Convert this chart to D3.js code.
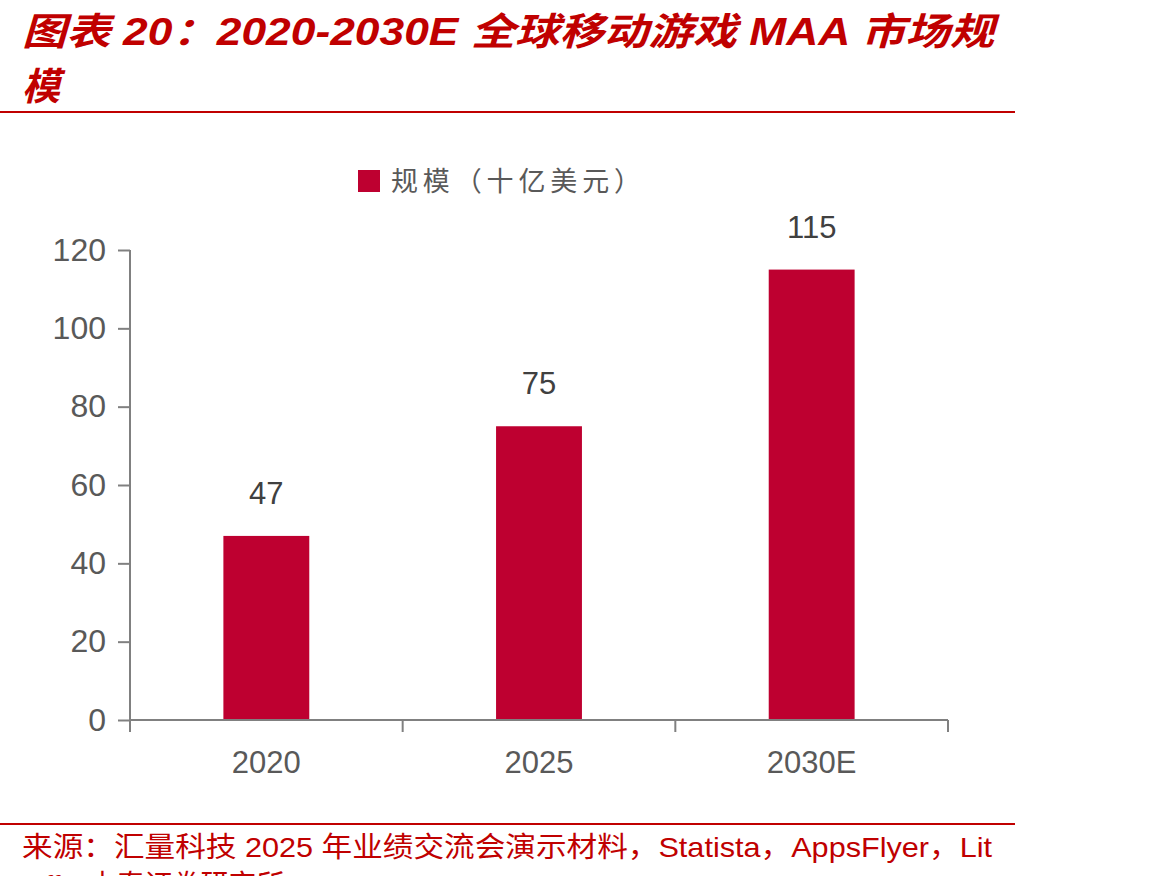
<!DOCTYPE html>
<html><head><meta charset="utf-8">
<script src="https://cdn.jsdelivr.net/npm/d3@7/dist/d3.min.js"></script>
<style>html,body{margin:0;padding:0;background:#fff;overflow:hidden}</style>
</head><body>
<svg id="c" width="1170" height="876"></svg>
<script>
const categories = ["2020", "2025", "2030E"];
const values = [47, 75, 115];
const yTicks = [0, 20, 40, 60, 80, 100, 120];
const seriesName = "规模（十亿美元）";
const titleLines = ["图表 20：2020-2030E 全球移动游戏 MAA 市场规", "模"];
const sourceLines = ["来源：汇量科技 2025 年业绩交流会演示材料，Statista，AppsFlyer，Lit", "toff，中泰证券研究所"];

const svg = d3.select("#c");
const red = "#C00000", barColor = "#BE0030", axisColor = "#808080", txt = "#595959";
const cjk = "'Noto Sans CJK SC', sans-serif";
const mixed = "'Liberation Sans', 'Noto Sans CJK SC', sans-serif";
const num = "'Liberation Sans', Arial, sans-serif";

// Title
svg.selectAll("text.title").data(titleLines).join("text")
  .attr("x", 22).attr("y", (d, i) => 45 + i * 55)
  .attr("fill", red).attr("font-family", mixed).attr("font-weight", "bold")
  .attr("font-style", "italic").attr("font-size", 38)
  .attr("textLength", (d, i) => i === 0 ? 972 : null)
  .attr("lengthAdjust", "spacingAndGlyphs")
  .text(d => d);
svg.append("line").attr("x1", 0).attr("x2", 1015).attr("y1", 112).attr("y2", 112)
  .attr("stroke", red).attr("stroke-width", 2);

// Scales
const x = d3.scaleBand().domain(categories).range([130, 948]).padding(0);
const y = d3.scaleLinear().domain([0, 120]).range([720, 250]);
const barW = x.bandwidth() * 0.315;

// Bars
svg.selectAll("rect.bar").data(values).join("rect")
  .attr("x", (d, i) => x(categories[i]) + x.bandwidth() / 2 - barW / 2)
  .attr("y", d => y(d)).attr("width", barW).attr("height", d => y(0) - y(d))
  .attr("fill", barColor);

// Value labels
svg.selectAll("text.val").data(values).join("text")
  .attr("x", (d, i) => x(categories[i]) + x.bandwidth() / 2)
  .attr("y", d => y(d) - 32).attr("text-anchor", "middle")
  .attr("font-family", num).attr("font-size", 31).attr("fill", "#404040")
  .text(d => d);

// Y axis
const yAxis = svg.append("g").attr("transform", "translate(130,0)")
  .call(d3.axisLeft(y).tickValues(yTicks).tickSize(12).tickPadding(12));
yAxis.select(".domain").attr("stroke", axisColor).attr("stroke-width", 2).attr("d", "M0,250V720");
yAxis.selectAll(".tick line").attr("stroke", axisColor).attr("stroke-width", 2);
yAxis.selectAll(".tick text").attr("font-family", num).attr("font-size", 32).attr("fill", txt);

// X axis
const xAxis = svg.append("g").attr("transform", "translate(0,720)")
  .call(d3.axisBottom(x).tickSize(0).tickPadding(31));
xAxis.select(".domain").attr("stroke", axisColor).attr("stroke-width", 2).attr("d", "M130,0H948");
xAxis.selectAll(".tick text").attr("font-family", num).attr("font-size", 31).attr("fill", txt);
const bounds = categories.map(c => x(c)).concat([x(categories[categories.length - 1]) + x.bandwidth()]);
svg.append("g").selectAll("line").data(bounds).join("line")
  .attr("x1", d => d).attr("x2", d => d).attr("y1", 720).attr("y2", 732)
  .attr("stroke", axisColor).attr("stroke-width", 2);

// Legend
svg.append("rect").attr("x", 358).attr("y", 170).attr("width", 22).attr("height", 22).attr("fill", barColor);
svg.append("text").attr("x", 391).attr("y", 191).attr("font-family", cjk)
  .attr("font-size", 27).attr("fill", txt).attr("textLength", 250).attr("lengthAdjust", "spacing").text(seriesName);

// Source
svg.append("line").attr("x1", 0).attr("x2", 1015).attr("y1", 824).attr("y2", 824)
  .attr("stroke", red).attr("stroke-width", 2);
svg.selectAll("text.src").data(sourceLines).join("text")
  .attr("x", 22).attr("y", (d, i) => 857 + i * 38)
  .attr("fill", red).attr("font-family", mixed).attr("font-size", 28)
  .attr("textLength", (d, i) => i === 0 ? 970 : null).attr("lengthAdjust", "spacingAndGlyphs")
  .text(d => d);
</script>
</body></html>
